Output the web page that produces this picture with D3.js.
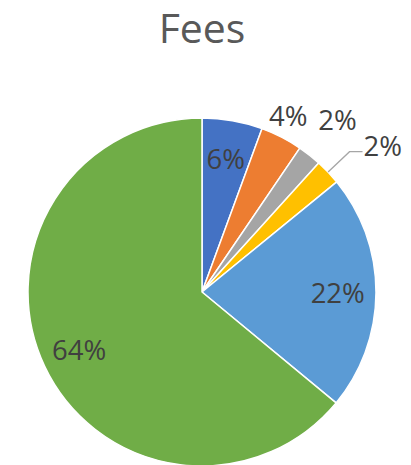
<!DOCTYPE html>
<html>
<head>
<meta charset="utf-8">
<script src="https://cdn.jsdelivr.net/npm/d3@7"></script>
<style>
  body { margin: 0; background: #fff; }
  svg { display: block; }
  .title { font-family: "Open Sans", sans-serif; font-size: 41px; fill: #595959; }
  .lbl { font-family: "Open Sans", sans-serif; font-size: 27.5px; fill: #404040; }
</style>
</head>
<body>
<div id="chart"></div>
<script>
// Fees breakdown, clockwise from 12 o'clock
const categories = ['A', 'B', 'C', 'D', 'E', 'F'];
const shares = [5.6, 3.9, 2.2, 2.4, 21.9, 64.0];
const colors = ['#4472c4', '#ed7d31', '#a5a5a5', '#ffc000', '#5b9bd5', '#70ad47'];

const width = 411, height = 465;
const cx = 202, cy = 292, radius = 174;

const svg = d3.select('#chart').append('svg')
  .attr('width', width).attr('height', height);

svg.append('text').attr('class', 'title')
  .attr('x', cx).attr('y', 43)
  .attr('text-anchor', 'middle')
  .text('Fees');

const total = d3.sum(shares);
const pct = d3.format('.0%');

const pie = d3.pie().sort(null).value(d => d);
const arcs = pie(shares);
const arc = d3.arc().innerRadius(0).outerRadius(radius);

const g = svg.append('g').attr('transform', `translate(${cx},${cy})`);

g.selectAll('path').data(arcs).enter().append('path')
  .attr('d', arc)
  .attr('fill', (d, i) => colors[i])
  .attr('stroke', '#fff')
  .attr('stroke-width', 1.5)
  .attr('stroke-linejoin', 'round');

// point at angle a (radians, clockwise from top) and distance r
function polar(a, r) {
  return [Math.sin(a) * r, -Math.cos(a) * r];
}

// label placement: big slices inside, small ones pushed outside
const outside = { 1: 1.13, 2: 1.26 };
arcs.forEach((d, i) => {
  const mid = (d.startAngle + d.endAngle) / 2;
  const txt = pct(d.value / total);
  if (i === 3) {
    // leader line for the crowded slice
    const p0 = polar(mid, radius);
    const p1 = polar(mid, radius * 1.17);
    const p2 = [p1[0] + 13, p1[1]];
    g.append('polyline')
      .attr('points', [p0, p1, p2].map(p => p.join(',')).join(' '))
      .attr('fill', 'none')
      .attr('stroke', '#a6a6a6')
      .attr('stroke-width', 1.3);
    g.append('text').attr('class', 'lbl')
      .attr('x', p2[0] + 1).attr('y', p2[1] - 6)
      .attr('dominant-baseline', 'central')
      .text(txt);
    return;
  }
  const f = outside[i] || 0.78;
  const p = polar(mid - (i === 1 ? 0.02 : 0), radius * f);
  g.append('text').attr('class', 'lbl')
    .attr('x', p[0]).attr('y', p[1])
    .attr('text-anchor', 'middle')
    .attr('dominant-baseline', 'central')
    .text(txt);
});
</script>
</body>
</html>
